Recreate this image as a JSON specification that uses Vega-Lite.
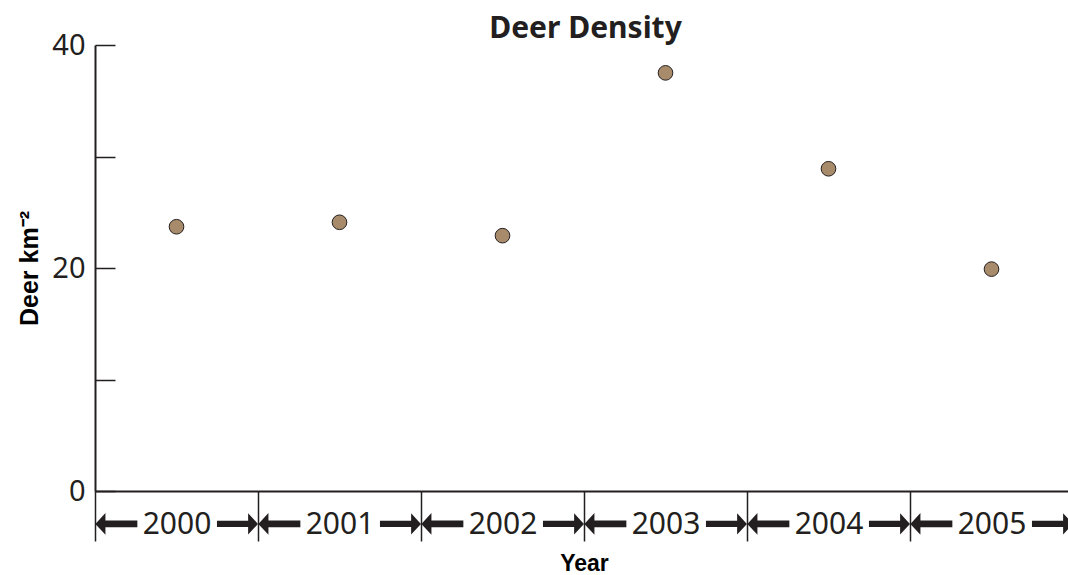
{
  "$schema": "https://vega.github.io/schema/vega-lite/v6.json",
  "width": 973,
  "height": 446,
  "autosize": {"type": "none"},
  "padding": {"left": 95, "top": 45, "right": 0, "bottom": 84},
  "config": {"view": {"stroke": null}, "font": "Noto Sans"},
  "title": {
    "text": "Deer Density",
    "font": "Noto Sans",
    "fontSize": 30,
    "fontWeight": "bold",
    "color": "#231f20",
    "anchor": "middle",
    "offset": -13,
    "dx": 4
  },
  "data": {
    "values": [
      {"year": "2000", "density": 23.7},
      {"year": "2001", "density": 24.1},
      {"year": "2002", "density": 22.9},
      {"year": "2003", "density": 37.5},
      {"year": "2004", "density": 28.9},
      {"year": "2005", "density": 19.9}
    ]
  },
  "layer": [
    {
      "mark": {"type": "point", "shape": "M-1,0L-0.52,-0.52L-0.52,-0.157L1,-0.157L1,0.157L-0.52,0.157L-0.52,0.52Z", "filled": true, "fill": "#231f20", "strokeWidth": 0, "size": 1764, "opacity": 1},
      "encoding": {
        "x": {
          "field": "year",
          "type": "ordinal",
          "bandPosition": 0.131,
          "scale": {"type": "band", "range": [0, 978], "paddingInner": 0, "paddingOuter": 0},
          "axis": {
            "orient": "bottom",
            "title": "Year",
            "titleFont": "Liberation Sans",
            "titleFontSize": 23,
            "titleFontWeight": "bold",
            "titleColor": "#000000",
            "titlePadding": 11,
            "tickBand": "extent",
            "tickSize": 50,
            "tickWidth": 1.5,
            "tickColor": "#231f20",
            "domainColor": "#231f20",
            "domainWidth": 2,
            "labelAngle": 0,
            "labelFont": "Noto Sans",
            "labelFontSize": 30,
            "labelColor": "#231f20",
            "labelBaseline": "middle",
            "labelPadding": -17,
            "labelOverlap": false,
            "labelFlush": false
          }
        },
        "y": {
          "datum": -2.95,
          "type": "quantitative",
          "scale": {"domain": [0, 40], "nice": false, "zero": true},
          "axis": {
            "values": [0, 10, 20, 30, 40],
            "title": "Deer km⁻²",
            "titleFont": "Liberation Sans",
            "titleFontSize": 25,
            "titleFontWeight": "bold",
            "titleColor": "#000000",
            "titlePadding": 9,
            "tickSize": -20,
            "tickWidth": 1.5,
            "tickColor": "#231f20",
            "domainColor": "#231f20",
            "domainWidth": 2,
            "grid": false,
            "labelExpr": "datum.value % 20 == 0 ? datum.label : ''",
            "labelFont": "Noto Sans",
            "labelFontSize": 29,
            "labelColor": "#231f20",
            "labelPadding": 30,
            "labelFlush": false
          }
        }
      }
    },
    {
      "mark": {"type": "point", "shape": "M1,0L0.52,-0.52L0.52,-0.157L-1,-0.157L-1,0.157L0.52,0.157L0.52,0.52Z", "filled": true, "fill": "#231f20", "strokeWidth": 0, "size": 1681, "opacity": 1},
      "encoding": {
        "x": {"field": "year", "type": "ordinal", "bandPosition": 0.874},
        "y": {"datum": -2.95, "type": "quantitative"}
      }
    },
    {
      "mark": {"type": "point", "shape": "circle", "filled": true, "fill": "#a88b6b", "stroke": "#231f20", "strokeWidth": 1, "size": 215, "opacity": 1},
      "encoding": {
        "x": {"field": "year", "type": "ordinal", "bandPosition": 0.5},
        "y": {"field": "density", "type": "quantitative"}
      }
    }
  ]
}
